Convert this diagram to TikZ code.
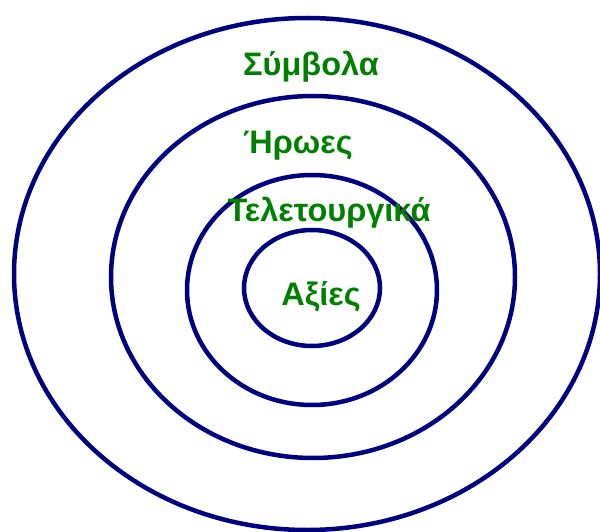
\documentclass[tikz,border=0pt]{standalone}
\usepackage{fontspec}
\setmainfont{Liberation Sans}
\usepackage{xcolor}
\usepackage{tikz}
\definecolor{ringblue}{RGB}{0,0,128}
\definecolor{labelgreen}{RGB}{0,128,0}

\begin{document}
\begin{tikzpicture}[x=1pt, y=-1pt,
  ring/.style={draw=ringblue, line width=4.5pt},
  layer/.style={text=labelgreen, font=\fontsize{32.5}{36}\selectfont\bfseries, anchor=base, inner sep=0pt}]
\useasboundingbox (0,0) rectangle (600,532);
\draw[ring] (307,274) ellipse [x radius=293, y radius=256];
\draw[ring] (313,277) ellipse [x radius=202, y radius=181];
\draw[ring] (312,290) ellipse [x radius=125, y radius=115];
\draw[ring] (312,288) ellipse [x radius=68, y radius=58];
\node[layer] (symb) at (311,76) {Σύμβολα};
\node[layer] (hero) at (298,154) {Ήρωες};
\node[layer] (rit) at (329,221) {Τελετουργικά};
\node[layer] (val) at (321,305) {Αξίες};
\end{tikzpicture}
\end{document}
